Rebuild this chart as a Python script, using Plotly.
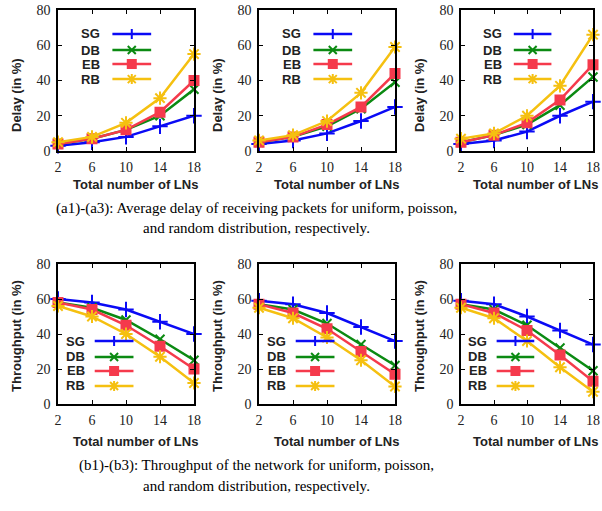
import plotly.graph_objects as go

# ---------------- data ----------------
x_lns = [2, 6, 10, 14, 18]
series_names = ["SG", "DB", "EB", "RB"]

# Delay (in %) - uniform, poisson, random
delay_uniform = {"SG": [3, 5, 8, 14, 20], "DB": [4, 7, 12, 20, 35],
                 "EB": [4, 7, 12, 22, 40], "RB": [5, 8, 16, 30, 55]}
delay_poisson = {"SG": [4, 6, 10, 17, 25], "DB": [5, 8, 14, 24, 39],
                 "EB": [5, 8, 15, 25, 44], "RB": [6, 9, 17, 33, 59]}
delay_random = {"SG": [4, 6, 11, 20, 28], "DB": [5, 9, 15, 26, 42],
                "EB": [5, 9, 16, 29, 49], "RB": [7, 10, 20, 37, 66]}

# Throughput (in %) - uniform, poisson, random
thr_uniform = {"SG": [60, 58, 54, 47, 40], "DB": [58, 55, 48, 37, 25],
               "EB": [58, 54, 45, 33, 20], "RB": [56, 50, 40, 27, 12]}
thr_poisson = {"SG": [59, 57, 52, 44, 36], "DB": [57, 54, 46, 34, 22],
               "EB": [57, 52, 43, 30, 17], "RB": [55, 49, 38, 25, 10]}
thr_random = {"SG": [59, 57, 50, 42, 34], "DB": [57, 54, 45, 32, 19],
              "EB": [57, 52, 42, 28, 13], "RB": [55, 49, 36, 21, 7]}

y_ticks = [0, 20, 40, 60, 80]
x_title = "Total number of LNs"
y_title_delay = "Delay (in %)"
y_title_thr = "Throughput (in %)"
caption_a = ["(a1)-(a3): Average delay of receiving packets for uniform, poisson,",
             "and random distribution, respectively."]
caption_b = ["(b1)-(b3): Throughput of the network for uniform, poisson,",
             "and random distribution, respectively."]

# ---------------- styles ----------------
W, H = 602, 511
colors = {"SG": "#0a0af5", "DB": "#0b8a12", "EB": "#f53a4c", "RB": "#f5c010"}
marker_styles = {
    "SG": dict(symbol="cross-thin", size=11),
    "DB": dict(symbol="x-thin", size=9),
    "EB": dict(symbol="square", size=9),
    "RB": dict(symbol="asterisk", size=11),
}
SERIF = "Liberation Serif, Times New Roman, serif"
SANS = "Liberation Sans, Arial, sans-serif"

def px_x(p):
    return p / W

def px_y(p):
    return 1 - p / H

# panel pixel boxes (left, right) and (top, bottom)
cols_px = [(58, 194), (259, 395), (461, 593)]
rows_px = [(10, 151), (264, 404)]

panels = [
    (0, 0, delay_uniform), (0, 1, delay_poisson), (0, 2, delay_random),
    (1, 0, thr_uniform), (1, 1, thr_poisson), (1, 2, thr_random),
]

fig = go.Figure()
layout = dict(
    template="none",
    width=W, height=H, margin=dict(l=0, r=0, t=0, b=0, pad=0, autoexpand=False),
    paper_bgcolor="white", plot_bgcolor="white", showlegend=False,
    annotations=[], shapes=[],
)

legend_cfg = {
    0: dict(text_r=0.325, l0=0.40, l1=0.685, ys=[0.83, 0.716, 0.617, 0.51]),
    1: dict(text_r=0.21, l0=0.27, l1=0.555, ys=[0.45, 0.336, 0.236, 0.129]),
}

marker_paths = {
    "SG": "M-5,0H5M0,-5V5",
    "DB": "M-4,-4L4,4M-4,4L4,-4",
    "EB": "M-4,-4H4V4H-4Z",
    "RB": "M-5,0H5M0,-5V5M-4,-4L4,4M-4,4L4,-4",
}

for idx, (r, c, data) in enumerate(panels):
    n = idx + 1
    xa = "xaxis" if n == 1 else f"xaxis{n}"
    ya = "yaxis" if n == 1 else f"yaxis{n}"
    xr = "x" if n == 1 else f"x{n}"
    yr = "y" if n == 1 else f"y{n}"
    cl, cr = cols_px[c]
    rt, rb = rows_px[r]
    axis_common = dict(
        showline=True, linecolor="black", linewidth=1.5, mirror="allticks",
        ticks="inside", ticklen=4, tickwidth=1, tickcolor="black",
        showgrid=False, zeroline=False, automargin=False,
        ticklabeloverflow="allow",
        tickfont=dict(family=SERIF, size=14, color="#222"),
    )
    layout[xa] = dict(axis_common, domain=[px_x(cl), px_x(cr)], anchor=yr,
                      range=[2, 18], tickvals=x_lns, ticklabelstandoff=2)
    layout[ya] = dict(axis_common, domain=[px_y(rb), px_y(rt)], anchor=xr,
                      range=[0, 80], tickvals=y_ticks, ticklabelstandoff=3)

    for name in series_names:
        ms = marker_styles[name]
        fig.add_trace(go.Scatter(
            x=x_lns, y=data[name], mode="lines+markers", name=name,
            xaxis=xr, yaxis=yr, cliponaxis=False,
            line=dict(color=colors[name], width=2.5),
            marker=dict(symbol=ms["symbol"], size=ms["size"], color=colors[name],
                        line=dict(color=colors[name], width=2)),
        ))

    # axis titles
    xt_center = min((cl + cr) / 2 + 9, 535)
    layout["annotations"].append(dict(
        text=f"<b>{x_title}</b>", xref="paper", yref="paper",
        x=px_x(xt_center), y=px_y(185 if r == 0 else 441),
        showarrow=False, xanchor="center", yanchor="middle",
        font=dict(family=SANS, size=13, color="#222")))
    layout["annotations"].append(dict(
        text=f"<b>{y_title_delay if r == 0 else y_title_thr}</b>",
        xref="paper", yref="paper", textangle=-90,
        x=px_x(cl - 42), y=px_y(95 if r == 0 else 336),
        showarrow=False, xanchor="center", yanchor="middle",
        font=dict(family=SANS, size=13, color="#222")))

    # custom legend (text left, key right)
    cfg = legend_cfg[r]
    wpx = cr - cl
    hpx = rb - rt
    for name, yf in zip(series_names, cfg["ys"]):
        ypx = rb - yf * hpx
        layout["annotations"].append(dict(
            text=f"<b>{name}</b>", xref="paper", yref="paper",
            x=px_x(cl + cfg["text_r"] * wpx), y=px_y(ypx),
            showarrow=False, xanchor="right", yanchor="middle",
            font=dict(family=SANS, size=13, color="#222")))
        layout["shapes"].append(dict(
            type="line", xref="paper", yref="paper",
            x0=px_x(cl + cfg["l0"] * wpx), x1=px_x(cl + cfg["l1"] * wpx),
            y0=px_y(ypx), y1=px_y(ypx),
            line=dict(color=colors[name], width=2.5)))
        mx = cl + (cfg["l0"] + cfg["l1"]) / 2 * wpx
        filled = name == "EB"
        layout["shapes"].append(dict(
            type="path", xref="paper", yref="paper",
            xsizemode="pixel", ysizemode="pixel",
            xanchor=px_x(mx), yanchor=px_y(ypx),
            path=marker_paths[name],
            fillcolor=colors[name] if filled else "rgba(0,0,0,0)",
            line=dict(color=colors[name], width=2)))

# captions
for lines, ys in ((caption_a, (208, 228)), (caption_b, (465, 486))):
    for txt, ypx in zip(lines, ys):
        layout["annotations"].append(dict(
            text=txt, xref="paper", yref="paper", x=px_x(256), y=px_y(ypx),
            showarrow=False, xanchor="center", yanchor="middle",
            font=dict(family=SERIF, size=15, color="black")))

fig.update_layout(**layout)
fig.write_html(
    "out.html",
    config={"displayModeBar": False},
    post_script="document.body.style.margin='0';document.body.style.overflow='hidden';",
)
